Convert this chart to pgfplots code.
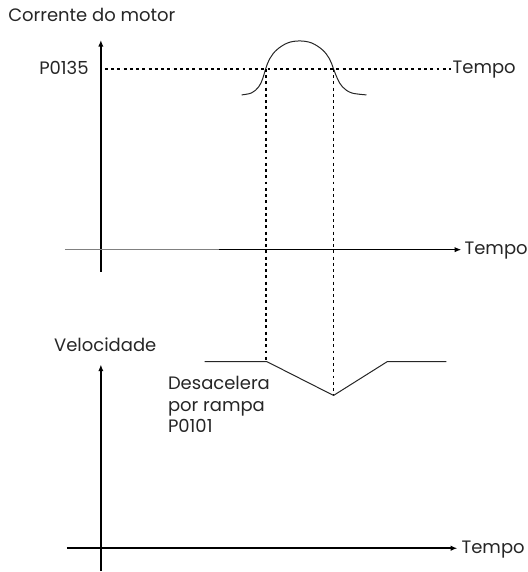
\documentclass[border=0pt]{standalone}
\usepackage{fontspec}
\setmainfont{Poppins}
\usepackage{pgfplots}
\pgfplotsset{compat=1.18}
\usetikzlibrary{arrows.meta}
\tikzset{lbl/.style={font=\fontsize{13.5}{16.5}\selectfont, text=black!85, inner sep=0pt}}
\begin{document}
\begin{tikzpicture}
\begin{axis}[
    x=0.75pt, y=0.75pt,
    xmin=0, xmax=527, ymin=0, ymax=572,
    y dir=reverse,
    enlargelimits=false,
    hide axis, clip=false,
]
% invisible frame
\addplot[draw=none] coordinates {(0,0) (527,572)};
% upper panel: motor current
\addplot[line width=1.2pt, -{Latex[length=5pt,width=4pt]}] coordinates {(101,272) (101,40)};
\addplot[gray, line width=0.8pt] coordinates {(65,250) (219,250)};
\addplot[line width=1.2pt, -{Latex[length=5pt,width=4pt]}] coordinates {(219,250) (462,250)};
\addplot[black!85, line width=0.75pt, smooth, tension=0.6] coordinates {
 (242,95) (252,93) (259,87) (263,79) (266,69) (270,59) (277,50) (288,43) (300,41)
 (312,43) (323,50) (330,59) (334,69) (338,79) (343,87) (352,93) (367,95)};
\addplot[line width=1.4pt, dash pattern=on 2.2pt off 2.5pt] coordinates {(105,69) (452,69)};
\addplot[line width=1.4pt, dash pattern=on 2.2pt off 2.5pt] coordinates {(266,69) (266,362)};
\addplot[line width=1.4pt, dash pattern=on 2.2pt off 2.5pt] coordinates {(334,69) (334,395)};
% lower panel: speed
\addplot[line width=1.2pt, -{Latex[length=5pt,width=4pt]}] coordinates {(101,572) (101,365)};
\addplot[line width=1.2pt, -{Latex[length=5pt,width=4pt]}] coordinates {(67,549) (458,549)};
\addplot[black!85, line width=0.75pt] coordinates {(205,362) (267,362) (334,396) (388,362) (447,362)};
% labels
\node[lbl, anchor=base west] at (axis cs:8,22) {Corrente do motor};
\node[lbl, anchor=base east] at (axis cs:89,75) {P0135};
\node[lbl, anchor=base west] at (axis cs:453,74) {Tempo};
\node[lbl, anchor=base west] at (axis cs:465,255) {Tempo};
\node[lbl, anchor=base west] at (axis cs:54,352) {Velocidade};
\node[lbl, anchor=north west, align=left] at (axis cs:168,376) {Desacelera\\por rampa\\P0101};
\node[lbl, anchor=base west] at (axis cs:462,554) {Tempo};
\end{axis}
\end{tikzpicture}
\end{document}
